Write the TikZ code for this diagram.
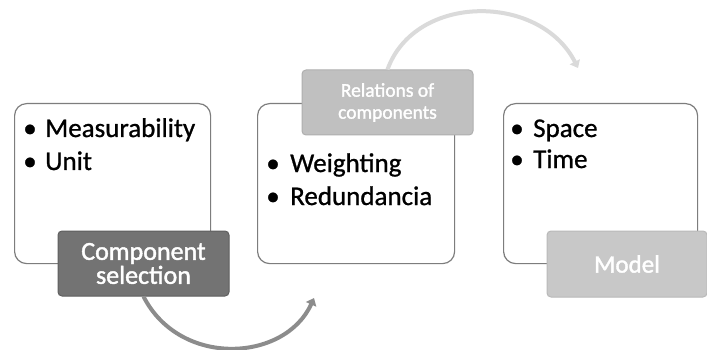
\documentclass[tikz,border=0pt]{standalone}
\usepackage{fontspec}
\setmainfont{Carlito}
\newfontfamily\heavyfont[FakeBold=0.9]{Carlito}
\newfontfamily\tagfont[FakeBold=1.6]{Carlito}
\usetikzlibrary{arrows.meta}
\definecolor{boxline}{RGB}{125,125,125}
\definecolor{darklab}{RGB}{115,115,115}
\definecolor{darklabline}{RGB}{95,95,95}
\definecolor{midlab}{RGB}{192,192,192}
\definecolor{midlabline}{RGB}{175,175,175}
\definecolor{litelab}{RGB}{200,200,200}
\definecolor{litelabline}{RGB}{185,185,185}
\definecolor{arrowdark}{RGB}{140,140,140}
\definecolor{arrowlite}{RGB}{218,218,218}
\begin{document}
\begin{tikzpicture}[x=1pt,y=-1pt,
  panel/.style={draw=boxline,line width=1.2pt,rounded corners=12pt,fill=white,
    minimum width=#1,minimum height=160pt,inner sep=0pt,anchor=north west},
  tag/.style={rounded corners=4pt,line width=1pt,minimum width=171pt,
    minimum height=65pt,inner sep=0pt,text=white,align=center},
  item/.style={anchor=base west,inner sep=0pt,font=\heavyfont\fontsize{27}{33}\selectfont},
  bul/.style={anchor=base,inner sep=0pt,font=\heavyfont\fontsize{27}{33}\selectfont},
  flow/.style={line width=4pt,-{Triangle[width=11pt,length=7pt]}}
]
\useasboundingbox (0,0) rectangle (707,350);
\fill[white] (0,0) rectangle (707,350);
% panels
\node[panel=196pt] (p1) at (14,103) {};
\node[panel=197pt] (p2) at (257,103) {};
\node[panel=194pt] (p3) at (503,103) {};
% items panel 1
\node[bul] (b11) at (30,137) {•};
\node[item] (t11) at (45,137) {Measurability};
\node[bul] (b12) at (30,170) {•};
\node[item] (t12) at (45,170) {Unit};
% items panel 2
\node[bul] (b21) at (273,172) {•};
\node[item] (t21) at (290,172) {Weighting};
\node[bul] (b22) at (273,205) {•};
\node[item] (t22) at (290,205) {Redundancia};
% items panel 3
\node[bul] (b31) at (517,137) {•};
\node[item] (t31) at (533,137) {Space};
\node[bul] (b32) at (517,168) {•};
\node[item] (t32) at (533,168) {Time};
% tags
\node[tag,fill=darklab,draw=darklabline,font=\tagfont\fontsize{26}{24}\selectfont] (l1) at (143.5,263.5) {Component\\selection};
\node[tag,fill=midlab,draw=midlabline,font=\tagfont\fontsize{19.5}{22}\selectfont] (l2) at (387.5,102.5) {Relations of\\components};
\node[tag,fill=litelab,draw=litelabline,minimum width=160pt,minimum height=66pt,font=\tagfont\fontsize{25}{28}\selectfont] (l3) at (627,264) {Model};
% arrows
\coordinate (e1) at (314,298);
\coordinate (e2) at (578,68);
\draw[flow,arrowdark] (l1.south) .. controls (180,368) and (285,362) .. (e1);
\draw[flow,arrowlite] (l2.north) .. controls (415,-7) and (540,-7) .. (e2);
\end{tikzpicture}
\end{document}
